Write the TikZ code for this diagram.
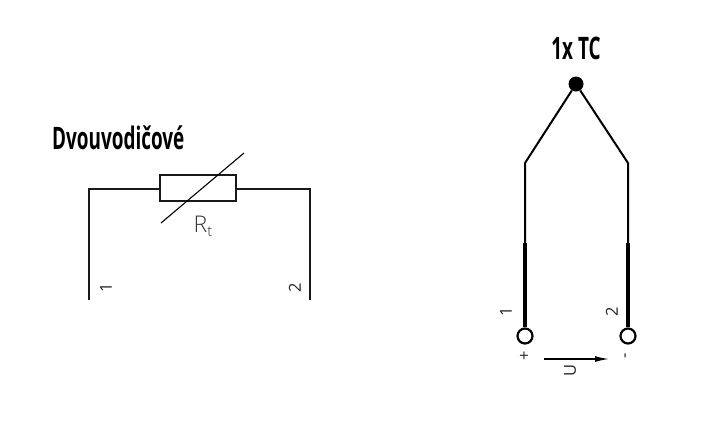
\documentclass[tikz,border=0pt]{standalone}
\usepackage{fontspec}
\setmainfont{Liberation Sans}
\newfontfamily\headfont[FakeStretch=0.61]{Open Sans}
\newfontfamily\thinfont{Open Sans Light}
\newfontfamily\labfont{Open Sans}
\usetikzlibrary{arrows.meta}
\tikzset{
  x=1pt,y=-1pt,
  wire/.style={draw=black!90,line width=1.2pt},
  thinwire/.style={draw=black,line width=2pt},
  thickwire/.style={draw=black,line width=3.2pt},
  head/.style={font=\headfont\bfseries\fontsize{31}{31}\selectfont,inner sep=0pt,text=black},
  lab/.style={font=\labfont\fontsize{16.5}{16.5}\selectfont,inner sep=0pt,text=black!85},
  term/.style={circle,draw=black,line width=2.2pt,minimum size=15pt,inner sep=0pt,fill=white},
  junction/.style={circle,fill=black,minimum size=15pt,inner sep=0pt},
  res/.style={rectangle,draw=black!90,line width=1.2pt,minimum width=76pt,minimum height=26pt,inner sep=0pt}
}
\begin{document}
\begin{tikzpicture}
\useasboundingbox (0,0) rectangle (719,424);
% left
\node[head,anchor=west] (dv) at (52,138) {Dvouvodičové};
\node[res] (r) at (198,188) {};
\coordinate (a1) at (89,300);
\coordinate (a2) at (89,189);
\coordinate (b1) at (310,300);
\coordinate (b2) at (310,189);
\draw[wire] (a1) -- (a2) -- (r.west |- a2);
\draw[wire] (b1) -- (b2) -- (r.east |- b2);
\coordinate (d1) at (161,223);
\coordinate (d2) at (244,153);
\draw[line width=1.1pt] (d1) -- (d2);
\node[font=\thinfont\fontsize{23}{23}\selectfont,inner sep=0pt,text=black!80] (rt) at (203,226) {R\raisebox{-4pt}{\fontsize{15}{15}\selectfont t}};
\node[lab,rotate=90] (l1) at (106,288) {1};
\node[lab,rotate=90] (l2) at (295,288) {2};
% right
\node[head,anchor=center] (tc) at (576,48) {1x TC};
\node[junction] (j) at (576,84) {};
\coordinate (p1) at (525,163);
\coordinate (p2) at (628,163);
\coordinate (q1) at (525,243);
\coordinate (q2) at (628,243);
\node[term] (t1) at (525,336) {};
\node[term] (t2) at (628,336) {};
\draw[thinwire] (j) -- (p1) -- (q1);
\draw[thinwire] (j) -- (p2) -- (q2);
\draw[thickwire] (q1) -- (t1);
\draw[thickwire] (q2) -- (t2);
\node[lab,rotate=90] (n1) at (506,312) {1};
\node[lab,rotate=90] (n2) at (612,312) {2};
\node[lab,rotate=90] (plus) at (525,356) {+};
\node[lab,rotate=90] (minus) at (627,356) {-};
\coordinate (u1) at (544,359);
\coordinate (u2) at (609,359);
\draw[line width=1.4pt,-{Latex[length=14pt,width=6pt]}] (u1) -- (u2);
\node[lab,rotate=90] (u) at (570,370) {U};
\end{tikzpicture}
\end{document}
